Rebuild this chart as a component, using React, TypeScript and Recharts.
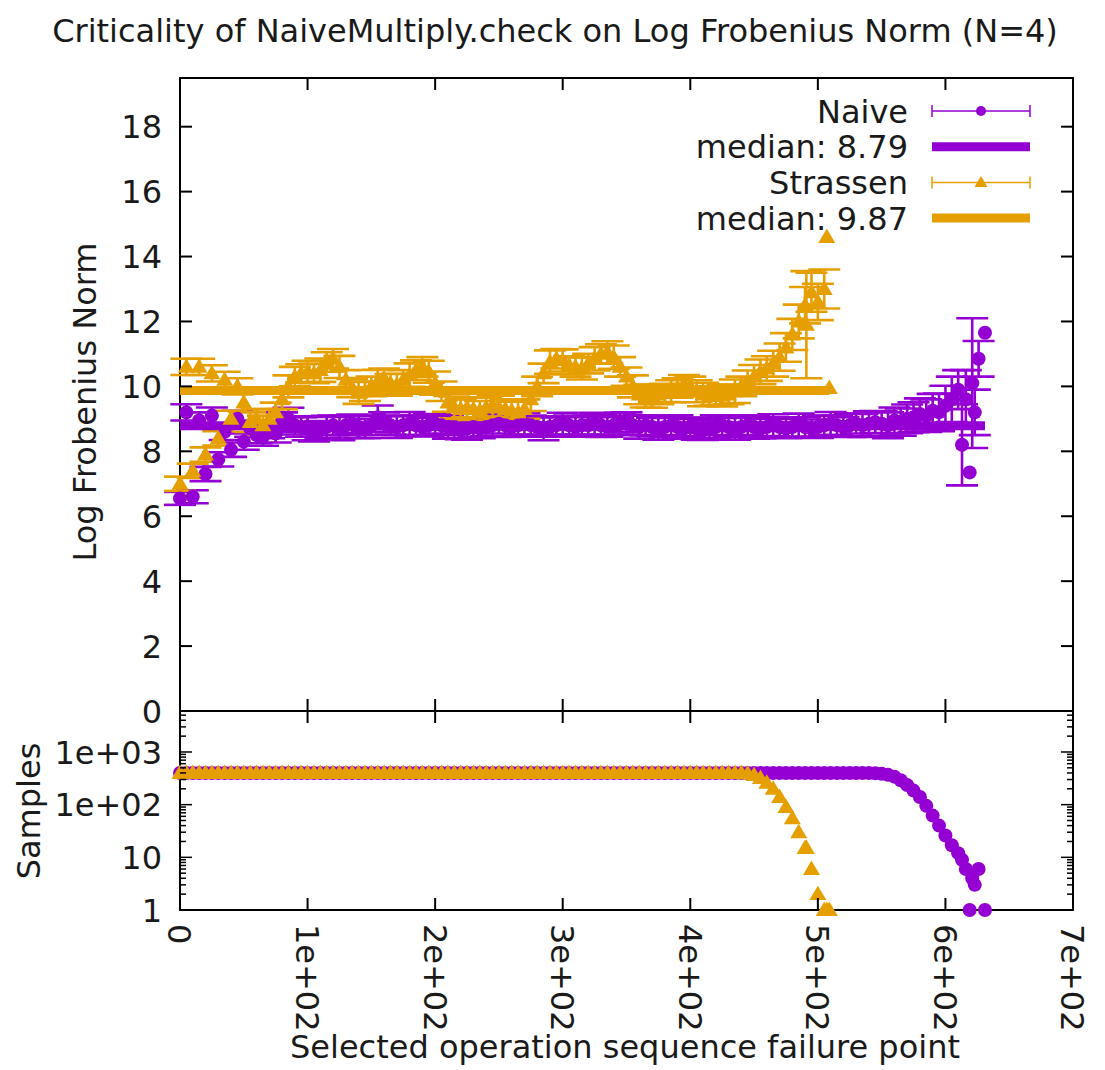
import React from 'react';
import { ComposedChart, Scatter, XAxis, YAxis, ErrorBar, ReferenceArea, Legend } from 'recharts';

const PURPLE = '#9400D3';
const ORANGE = '#E69F00';
const FONT = "'DejaVu Sans', 'Liberation Sans', sans-serif";
const FONT_SIZE = 32;

const PAGE_W = 1105;
const PAGE_H = 1070;

// frame geometry in page pixels
const PLOT_LEFT = 180;
const PLOT_RIGHT = 1073;
const NORM_TOP = 78;
const NORM_BOTTOM = 711;
const UPPER_XAXIS_H = 30;
const LOWER_BOX_TOP = 700;
const SAMPLE_TOP = 711;
const SAMPLE_BOTTOM = 910;
const MAJOR_TICK = 12;
const MINOR_TICK = 6;

// regular measurements are taken every STEP operations
const STEP = 5;

const TITLE = 'Criticality of NaiveMultiply.check on Log Frobenius Norm (N=4)';
const NORM_LABEL = 'Log Frobenius Norm';
const SAMPLE_LABEL = 'Samples';
const X_LABEL = 'Selected operation sequence failure point';

const xTicks = [0, 100, 200, 300, 400, 500, 600, 700];
const xTickLabels = ['0', '1e+02', '2e+02', '3e+02', '4e+02', '5e+02', '6e+02', '7e+02'];
const normTicks = [0, 2, 4, 6, 8, 10, 12, 14, 16, 18];
const NORM_DOMAIN: [number, number] = [0, 19.5];
const sampleMajorTicks = [1, 10, 100, 1000];
const sampleMajorLabels = ['1', '10', '1e+02', '1e+03'];
const sampleMinorTicks = [2, 3, 4, 5, 6, 7, 8, 9, 20, 30, 40, 50, 60, 70, 80, 90, 200, 300, 400, 500, 600, 700, 800, 900, 2000, 3000, 4000, 5000];
const SAMPLE_DOMAIN: [number, number] = [1, 6000];

const NAIVE_NAME = 'Naive';
const STRASSEN_NAME = 'Strassen';
const NAIVE_MEDIAN = 8.79;
const STRASSEN_MEDIAN = 9.87;

// Naive: log Frobenius norm at x = 0, 5, 10, ... 605
const naiveNorm = [
  6.55, 9.2, 6.6, 8.95, 7.3, 9.1, 7.75, 8.6, 8.05, 9.0, 8.3, 8.7, 8.5, 8.45, 8.65, 8.55,
  8.9, 9.0, 8.8, 8.75, 8.7, 8.6, 8.65, 8.75, 8.8, 8.7, 8.8, 8.85, 8.75, 8.7, 8.8, 9.05,
  8.9, 8.8, 8.75, 8.8, 8.85, 8.8, 8.75, 8.8, 8.85, 8.8, 8.75, 8.7, 8.65, 8.7, 8.75, 8.7,
  8.75, 8.8, 8.85, 8.8, 8.75, 8.8, 8.85, 8.8, 8.75, 8.7, 8.75, 8.8, 8.85, 8.8, 8.75, 8.8,
  8.8, 8.85, 8.8, 8.75, 8.8, 8.85, 8.9, 8.8, 8.75, 8.8, 8.75, 8.7, 8.75, 8.8, 8.75, 8.7,
  8.75, 8.7, 8.65, 8.7, 8.75, 8.8, 8.75, 8.7, 8.75, 8.8, 8.75, 8.7, 8.75, 8.8, 8.75, 8.7,
  8.75, 8.8, 8.75, 8.7, 8.75, 8.8, 8.85, 8.8, 8.75, 8.8, 8.85, 8.8, 8.85, 8.9, 8.85, 8.8,
  8.95, 8.9, 9.0, 9.05, 9.15, 9.1, 9.25, 9.2, 9.4, 9.6,
];
const naiveErr = [
  0.2, 0.25, 0.2, 0.25, 0.22, 0.25, 0.22, 0.25, 0.22, 0.25, 0.25, 0.25, 0.25, 0.28, 0.25, 0.28,
  0.3, 0.34, 0.28, 0.3, 0.36, 0.3, 0.28, 0.34, 0.3, 0.36, 0.3, 0.28, 0.34, 0.3, 0.3, 0.36,
  0.3, 0.28, 0.34, 0.3, 0.36, 0.3, 0.28, 0.34, 0.3, 0.3, 0.36, 0.3, 0.28, 0.34, 0.3, 0.3,
  0.28, 0.34, 0.3, 0.36, 0.3, 0.28, 0.34, 0.3, 0.3, 0.36, 0.3, 0.28, 0.34, 0.3, 0.3, 0.28,
  0.3, 0.34, 0.36, 0.3, 0.28, 0.34, 0.3, 0.3, 0.36, 0.3, 0.28, 0.34, 0.3, 0.3, 0.36, 0.3,
  0.28, 0.34, 0.3, 0.3, 0.36, 0.3, 0.28, 0.34, 0.3, 0.3, 0.36, 0.3, 0.28, 0.34, 0.3, 0.3,
  0.3, 0.36, 0.3, 0.28, 0.34, 0.3, 0.36, 0.3, 0.3, 0.36, 0.3, 0.36, 0.38, 0.34, 0.38, 0.4,
  0.4, 0.42, 0.44, 0.46, 0.48, 0.5, 0.52, 0.58, 0.62, 0.7,
];
const naiveSamples = [
  400, 400, 400, 400, 400, 400, 400, 400, 400, 400, 400, 400, 400, 400, 400, 400, 400, 400, 400, 400,
  400, 400, 400, 400, 400, 400, 400, 400, 400, 400, 400, 400, 400, 400, 400, 400, 400, 400, 400, 400,
  400, 400, 400, 400, 400, 400, 400, 400, 400, 400, 400, 400, 400, 400, 400, 400, 400, 400, 400, 400,
  400, 400, 400, 400, 400, 400, 400, 400, 400, 400, 400, 400, 400, 400, 400, 400, 400, 400, 400, 400,
  400, 400, 400, 400, 400, 400, 400, 400, 400, 400, 400, 400, 400, 400, 400, 400, 400, 400, 400, 400,
  400, 400, 400, 400, 400, 400, 400, 400, 400,
  395, 385, 370, 340, 290, 235, 185, 140, 95, 62, 40, 26, 17,
];
// sparse runs near the end: [x, norm, error, samples]
const naiveTail: [number, number, number, number][] = [
  [610, 9.9, 0.6, 12], [613, 8.2, 1.25, 9], [616, 9.6, 0.9, 6], [619, 7.35, 0, 1],
  [621, 10.1, 2.0, 4], [623, 9.2, 0.7, 3], [626, 10.85, 0.55, 6], [631, 11.65, 0, 1],
];

// Strassen: log Frobenius norm at x = 0, 5, 10, ... 505
const strassenNorm = [
  7.0, 10.6, 7.4, 10.6, 7.9, 10.4, 8.4, 10.2, 9.0, 10.0, 9.5, 8.9, 9.0, 8.8, 9.0, 9.2,
  9.6, 10.0, 10.3, 10.4, 10.45, 10.4, 10.5, 10.75, 10.85, 10.6, 10.2, 9.95, 9.8, 9.85, 10.0, 10.15,
  10.25, 10.1, 10.05, 10.2, 10.35, 10.5, 10.6, 10.45, 10.1, 9.85, 9.5, 9.35, 9.3, 9.35, 9.3, 9.25,
  9.35, 9.4, 9.35, 9.3, 9.25, 9.2, 9.3, 9.6, 10.0, 10.4, 10.75, 10.85, 10.8, 10.65, 10.6, 10.55,
  10.7, 10.85, 11.0, 11.05, 10.9, 10.6, 10.3, 10.0, 9.75, 9.65, 9.7, 9.75, 9.8, 9.85, 9.95, 10.05,
  10.0, 9.85, 9.75, 9.7, 9.7, 9.72, 9.75, 9.85, 10.0, 10.15, 10.3, 10.45, 10.55, 10.7, 10.9, 11.2,
  11.6, 12.0, 12.5, 12.9, 12.6, 13.0,
];
const strassenErr = [
  0.22, 0.25, 0.22, 0.25, 0.22, 0.25, 0.22, 0.25, 0.25, 0.25, 0.28, 0.3, 0.3, 0.3, 0.3, 0.3,
  0.3, 0.34, 0.3, 0.28, 0.34, 0.3, 0.36, 0.3, 0.3, 0.34, 0.3, 0.28, 0.34, 0.3, 0.3, 0.36,
  0.3, 0.28, 0.34, 0.3, 0.36, 0.3, 0.3, 0.34, 0.36, 0.3, 0.28, 0.34, 0.3, 0.3, 0.36, 0.3,
  0.3, 0.34, 0.36, 0.3, 0.28, 0.34, 0.3, 0.36, 0.3, 0.3, 0.36, 0.3, 0.34, 0.28, 0.3, 0.34,
  0.3, 0.36, 0.3, 0.34, 0.36, 0.3, 0.28, 0.34, 0.3, 0.3, 0.36, 0.3, 0.28, 0.34, 0.3, 0.3,
  0.3, 0.34, 0.36, 0.3, 0.28, 0.34, 0.3, 0.36, 0.3, 0.34, 0.36, 0.38, 0.38, 0.4, 0.42, 0.44,
  0.48, 0.52, 0.56, 0.6, 0.56, 0.6,
];
const strassenSamples = [
  400, 400, 400, 400, 400, 400, 400, 400, 400, 400, 400, 400, 400, 400, 400, 400, 400, 400, 400, 400,
  400, 400, 400, 400, 400, 400, 400, 400, 400, 400, 400, 400, 400, 400, 400, 400, 400, 400, 400, 400,
  400, 400, 400, 400, 400, 400, 400, 400, 400, 400, 400, 400, 400, 400, 400, 400, 400, 400, 400, 400,
  400, 400, 400, 400, 400, 400, 400, 400, 400, 400, 400, 400, 400, 400, 400, 400, 400, 400, 400, 400,
  400, 400, 400, 400, 400, 400, 400, 400, 400,
  390, 365, 320, 260, 200, 140, 90, 55, 30, 15, 6, 2, 1,
];
const strassenTail: [number, number, number, number][] = [
  [491, 11.9, 1.65, 15], [507, 14.6, 0, 1], [509, 9.95, 0, 1],
];

type Pt = { x: number; y: number; err: number; s: number };

const buildSeries = (norm: number[], err: number[], samples: number[], tail: [number, number, number, number][]): Pt[] => [
  ...norm.map((y, i) => ({ x: i * STEP, y, err: err[i], s: samples[i] })),
  ...tail.map(([x, y, e, s]) => ({ x, y, err: e, s })),
];

const naivePoints = buildSeries(naiveNorm, naiveErr, naiveSamples, naiveTail);
const strassenPoints = buildSeries(strassenNorm, strassenErr, strassenSamples, strassenTail);

const lastX = (pts: Pt[]) => Math.max(...pts.map((p) => p.x));
const naiveMedianLine = [{ x: 0, y: NAIVE_MEDIAN }, { x: lastX(naivePoints), y: NAIVE_MEDIAN }];
const strassenMedianLine = [{ x: 0, y: STRASSEN_MEDIAN }, { x: lastX(strassenPoints), y: STRASSEN_MEDIAN }];

const trianglePath = (cx: number, cy: number, h: number) =>
  `M${cx},${cy - h}L${cx + h},${cy + h * 0.7}L${cx - h},${cy + h * 0.7}Z`;

const circleShape = (color: string) => (props: any) =>
  <circle cx={props.cx} cy={props.cy} r={7} fill={color} />;
const triangleShape = (color: string) => (props: any) =>
  <path d={trianglePath(props.cx, props.cy, 8.5)} fill={color} />;
const noShape = () => <g />;

const textStyle = { fontFamily: FONT, fontSize: FONT_SIZE, fill: '#1a1a1a' } as const;

// x ticks pointing inwards at the bottom and top of a panel
const makeXTick = (plotTop: number, withLabels: boolean) => (props: any) => {
  const { x, y, payload } = props;
  const label = xTickLabels[xTicks.indexOf(payload.value)];
  const ly = y + 14;
  return (
    <g>
      <line x1={x} y1={y} x2={x} y2={y - MAJOR_TICK} stroke="#000" strokeWidth={2} />
      <line x1={x} y1={plotTop} x2={x} y2={plotTop + MAJOR_TICK} stroke="#000" strokeWidth={2} />
      {withLabels && (
        <text x={x} y={ly} dy="0.36em" textAnchor="start" transform={`rotate(90 ${x} ${ly})`} {...textStyle}>
          {label}
        </text>
      )}
    </g>
  );
};

// y ticks pointing inwards on the left and right of a panel
const NormTick = (props: any) => {
  const { x, y, payload } = props;
  return (
    <g>
      <line x1={x} y1={y} x2={x + MAJOR_TICK} y2={y} stroke="#000" strokeWidth={2} />
      <line x1={PLOT_RIGHT} y1={y} x2={PLOT_RIGHT - MAJOR_TICK} y2={y} stroke="#000" strokeWidth={2} />
      <text x={x - 18} y={y} dy="0.36em" textAnchor="end" {...textStyle}>{payload.value}</text>
    </g>
  );
};

const SampleTick = (props: any) => {
  const { x, y, payload } = props;
  const idx = sampleMajorTicks.indexOf(payload.value);
  const len = idx >= 0 ? MAJOR_TICK : MINOR_TICK;
  return (
    <g>
      <line x1={x} y1={y} x2={x + len} y2={y} stroke="#000" strokeWidth={1.5} />
      <line x1={PLOT_RIGHT} y1={y} x2={PLOT_RIGHT - len} y2={y} stroke="#000" strokeWidth={1.5} />
      {idx >= 0 && (
        <text x={x - 18} y={y} dy="0.36em" textAnchor="end" {...textStyle}>{sampleMajorLabels[idx]}</text>
      )}
    </g>
  );
};

const LEGEND_LEFT = 680;
const LEGEND_TOP = 88;
const legendRows = [
  { label: NAIVE_NAME, color: PURPLE, kind: 'points', marker: 'circle' },
  { label: `median: ${NAIVE_MEDIAN.toFixed(2)}`, color: PURPLE, kind: 'line', marker: '' },
  { label: STRASSEN_NAME, color: ORANGE, kind: 'points', marker: 'triangle' },
  { label: `median: ${STRASSEN_MEDIAN.toFixed(2)}`, color: ORANGE, kind: 'line', marker: '' },
];

const LegendBox = () => {
  const textRight = 228;
  const s0 = 252;
  const s1 = 350;
  const mid = (s0 + s1) / 2;
  return (
    <svg width={380} height={150} style={{ overflow: 'visible', display: 'block' }}>
      {legendRows.map((r, i) => {
        const cy = 23 + i * 35.7;
        return (
          <g key={r.label}>
            <text x={textRight} y={cy} dy="0.36em" textAnchor="end" {...textStyle}>{r.label}</text>
            {r.kind === 'line' ? (
              <line x1={s0} y1={cy} x2={s1} y2={cy} stroke={r.color} strokeWidth={9} />
            ) : (
              <g>
                <line x1={s0} y1={cy} x2={s1} y2={cy} stroke={r.color} strokeWidth={1.5} />
                <line x1={s0} y1={cy - 6} x2={s0} y2={cy + 6} stroke={r.color} strokeWidth={1.5} />
                <line x1={s1} y1={cy - 6} x2={s1} y2={cy + 6} stroke={r.color} strokeWidth={1.5} />
                {r.marker === 'circle' ? (
                  <circle cx={mid} cy={cy} r={5} fill={r.color} />
                ) : (
                  <path d={trianglePath(mid, cy, 6.5)} fill={r.color} />
                )}
              </g>
            )}
          </g>
        );
      })}
    </svg>
  );
};

const errorBarProps = { dataKey: 'err', direction: 'y' as const, width: 16, strokeWidth: 2.6, isAnimationActive: false };

export default function App() {
  const lowerTop = SAMPLE_TOP - LOWER_BOX_TOP;
  const lowerHeight = PAGE_H - LOWER_BOX_TOP;
  const lowerXAxisHeight = PAGE_H - SAMPLE_BOTTOM;
  return (
    <div style={{ position: 'absolute', left: 0, top: 0, width: PAGE_W, height: PAGE_H, background: '#fff' }}>
      <svg width={PAGE_W} height={PAGE_H} style={{ position: 'absolute', left: 0, top: 0 }}>
        <text x={555} y={42} textAnchor="middle" {...textStyle}>{TITLE}</text>
        <text x={96} y={402} textAnchor="middle" transform="rotate(-90 96 402)" {...textStyle}>{NORM_LABEL}</text>
        <text x={40} y={811} textAnchor="middle" transform="rotate(-90 40 811)" {...textStyle}>{SAMPLE_LABEL}</text>
        <text x={625} y={1058} textAnchor="middle" {...textStyle}>{X_LABEL}</text>
      </svg>

      <div style={{ position: 'absolute', left: 0, top: 0 }}>
        <ComposedChart
          width={PAGE_W}
          height={NORM_BOTTOM + UPPER_XAXIS_H}
          margin={{ top: NORM_TOP, right: PAGE_W - PLOT_RIGHT, bottom: 0, left: 0 }}
        >
          <XAxis
            type="number" dataKey="x" domain={[0, 700]} ticks={xTicks} interval={0}
            height={UPPER_XAXIS_H} tickSize={0} tickMargin={0} axisLine={false} tickLine={false}
            tick={makeXTick(NORM_TOP, false)}
          />
          <YAxis
            type="number" dataKey="y" domain={NORM_DOMAIN} ticks={normTicks} interval={0}
            width={PLOT_LEFT} tickSize={0} tickMargin={0} axisLine={false} tickLine={false}
            tick={NormTick}
          />
          <ReferenceArea x1={0} x2={700} y1={NORM_DOMAIN[0]} y2={NORM_DOMAIN[1]} fill="none" fillOpacity={0} stroke="#000" strokeWidth={2} ifOverflow="visible" />
          <Scatter name={NAIVE_NAME} data={naivePoints} fill={PURPLE} shape={circleShape(PURPLE)} isAnimationActive={false}>
            <ErrorBar {...errorBarProps} stroke={PURPLE} />
          </Scatter>
          <Scatter data={naiveMedianLine} fill={PURPLE} line={{ stroke: PURPLE, strokeWidth: 9 }} shape={noShape} isAnimationActive={false} />
          <Scatter name={STRASSEN_NAME} data={strassenPoints} fill={ORANGE} shape={triangleShape(ORANGE)} isAnimationActive={false}>
            <ErrorBar {...errorBarProps} stroke={ORANGE} />
          </Scatter>
          <Scatter data={strassenMedianLine} fill={ORANGE} line={{ stroke: ORANGE, strokeWidth: 9 }} shape={noShape} isAnimationActive={false} />
          <Legend
            layout="vertical" align="center" verticalAlign="middle"
            content={() => <LegendBox />}
            wrapperStyle={{ left: LEGEND_LEFT, top: LEGEND_TOP, width: 380, height: 150, bottom: 'auto', right: 'auto' }}
          />
        </ComposedChart>
      </div>

      <div style={{ position: 'absolute', left: 0, top: LOWER_BOX_TOP }}>
        <ComposedChart
          width={PAGE_W}
          height={lowerHeight}
          margin={{ top: lowerTop, right: PAGE_W - PLOT_RIGHT, bottom: 0, left: 0 }}
        >
          <XAxis
            type="number" dataKey="x" domain={[0, 700]} ticks={xTicks} interval={0}
            height={lowerXAxisHeight} tickSize={0} tickMargin={0} axisLine={false} tickLine={false}
            tick={makeXTick(lowerTop, true)}
          />
          <YAxis
            type="number" dataKey="s" scale="log" domain={SAMPLE_DOMAIN}
            ticks={[...sampleMajorTicks, ...sampleMinorTicks].sort((a, b) => a - b)} interval={0}
            width={PLOT_LEFT} tickSize={0} tickMargin={0} axisLine={false} tickLine={false}
            tick={SampleTick}
          />
          <ReferenceArea x1={0} x2={700} y1={SAMPLE_DOMAIN[0]} y2={SAMPLE_DOMAIN[1]} fill="none" fillOpacity={0} stroke="#000" strokeWidth={2} ifOverflow="visible" />
          <Scatter data={naivePoints} fill={PURPLE} shape={circleShape(PURPLE)} isAnimationActive={false} />
          <Scatter data={strassenPoints} fill={ORANGE} shape={triangleShape(ORANGE)} isAnimationActive={false} />
        </ComposedChart>
      </div>
    </div>
  );
}
